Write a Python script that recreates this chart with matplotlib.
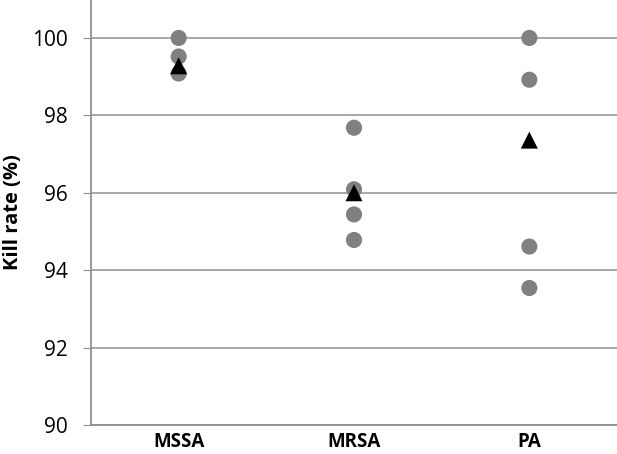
import matplotlib.pyplot as plt

categories = ["MSSA", "MRSA", "PA"]
# individual replicate kill rates (%)
mssa_vals = [100.0, 99.52, 99.08]
mrsa_vals = [97.68, 96.09, 95.44, 94.78]
pa_vals = [100.0, 98.92, 94.61, 93.54]
# mean markers
means = [99.28, 96.0, 97.36]

groups = [mssa_vals, mrsa_vals, pa_vals]

plt.rcParams['font.family'] = ['Open Sans', 'DejaVu Sans']

fig = plt.figure(figsize=(6.17, 4.54), dpi=100)
ax = fig.add_axes([91 / 617, 1 - 425 / 454, 1 - 91 / 617, 425 / 454])

for i, vals in enumerate(groups):
    ax.scatter([i + 0.5] * len(vals), vals, s=135, color='#808080',
               edgecolors='none', zorder=3)
ax.scatter([i + 0.5 for i in range(len(categories))], means, marker='^',
           s=150, color='black', edgecolors='none', zorder=4)

ax.set_xlim(0, 3)
ax.set_ylim(90, 100.98)
ax.set_yticks([90, 92, 94, 96, 98, 100])
ax.set_xticks([0.5, 1.5, 2.5])
ax.set_xticklabels(categories, fontweight='bold', fontsize=13.5)
ax.tick_params(axis='x', length=0, pad=5)
ax.tick_params(axis='y', length=6, color='#909090', labelsize=15, pad=11)
ax.grid(axis='y', color='#a0a0a0', linewidth=1.3)
ax.set_axisbelow(True)

for side in ['top', 'right']:
    ax.spines[side].set_visible(False)
for side in ['left', 'bottom']:
    ax.spines[side].set_color('#909090')
    ax.spines[side].set_linewidth(1.3)

ax.set_ylabel("Kill rate (%)", fontweight='bold', fontsize=14.5, labelpad=6)

fig.savefig("out.png", dpi=100)
